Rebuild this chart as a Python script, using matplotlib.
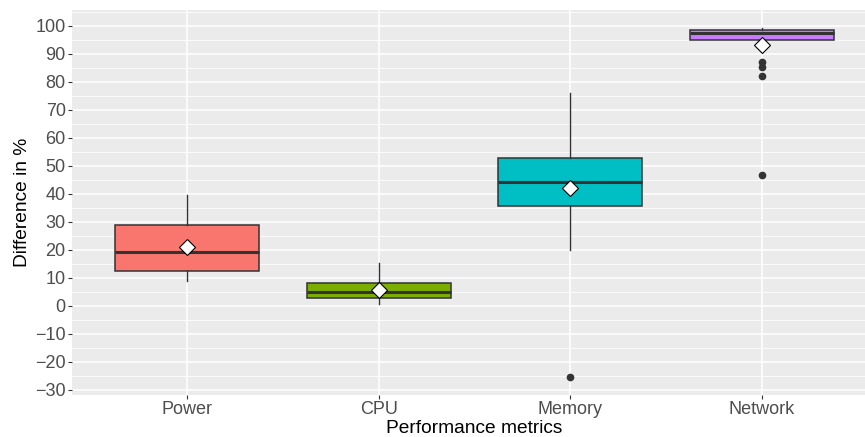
import matplotlib
matplotlib.use("Agg")
import matplotlib.pyplot as plt
from matplotlib.ticker import MultipleLocator

plt.rcParams['font.family'] = ['Liberation Sans', 'DejaVu Sans']

# Box summary values
categories = ["Power", "CPU", "Memory", "Network"]
q1 = [12.6, 2.9, 35.5, 94.9]
medians = [19.3, 5.0, 44.3, 97.3]
q3 = [28.8, 8.1, 52.9, 98.6]
whisker_low = [8.8, 0.6, 20.1, 94.6]
whisker_high = [39.6, 15.3, 75.9, 99.2]
means = [21.1, 5.7, 41.9, 93.0]
outliers = [[], [], [-25.2], [87.1, 85.1, 81.9, 46.8]]
colors = ["#F8766D", "#7CAE00", "#00BFC4", "#C77CFF"]

stats = []
for i, name in enumerate(categories):
    stats.append({
        'label': name,
        'q1': q1[i], 'med': medians[i], 'q3': q3[i],
        'whislo': whisker_low[i], 'whishi': whisker_high[i],
        'fliers': outliers[i], 'mean': means[i],
    })

fig = plt.figure(figsize=(8.65, 4.37), dpi=100)
ax = fig.add_axes([72 / 865, 42 / 437, 805 / 865, 385 / 437])
ax.set_facecolor("#EBEBEB")

positions = list(range(1, len(categories) + 1))
bp = ax.bxp(stats, positions=positions, widths=0.75, patch_artist=True,
            showmeans=True, showcaps=False,
            boxprops=dict(edgecolor="#333333", linewidth=1.1),
            medianprops=dict(color="#333333", linewidth=2.2),
            whiskerprops=dict(color="#333333", linewidth=1.0),
            flierprops=dict(marker='o', markerfacecolor="#333333",
                            markeredgecolor="#333333", markersize=4.5),
            meanprops=dict(marker='D', markerfacecolor='white',
                           markeredgecolor='black', markersize=8.5,
                           markeredgewidth=0.8),
            zorder=3)
for patch, c in zip(bp['boxes'], colors):
    patch.set_facecolor(c)

ax.set_xlim(0.4, 4.6)
ax.set_ylim(-31.8, 105.6)
ax.yaxis.set_major_locator(MultipleLocator(10))
ax.yaxis.set_minor_locator(MultipleLocator(5))
ax.set_xticks(positions)
ax.set_xticklabels(categories)

ax.grid(which='major', color='white', linewidth=1.1, zorder=0)
ax.grid(which='minor', axis='y', color='white', linewidth=0.55, zorder=0)
ax.set_axisbelow(True)
for s in ax.spines.values():
    s.set_visible(False)

ax.tick_params(axis='both', which='major', length=3, width=0.8,
               color="#333333", labelcolor="#4D4D4D", labelsize=13, pad=1.5)
ax.tick_params(axis='y', which='minor', length=0)

ax.set_xlabel("Performance metrics", fontsize=13.8, color='black', labelpad=1)
ax.set_ylabel("Difference in %", fontsize=13.8, color='black', labelpad=3)

fig.savefig("out.png", dpi=100)
